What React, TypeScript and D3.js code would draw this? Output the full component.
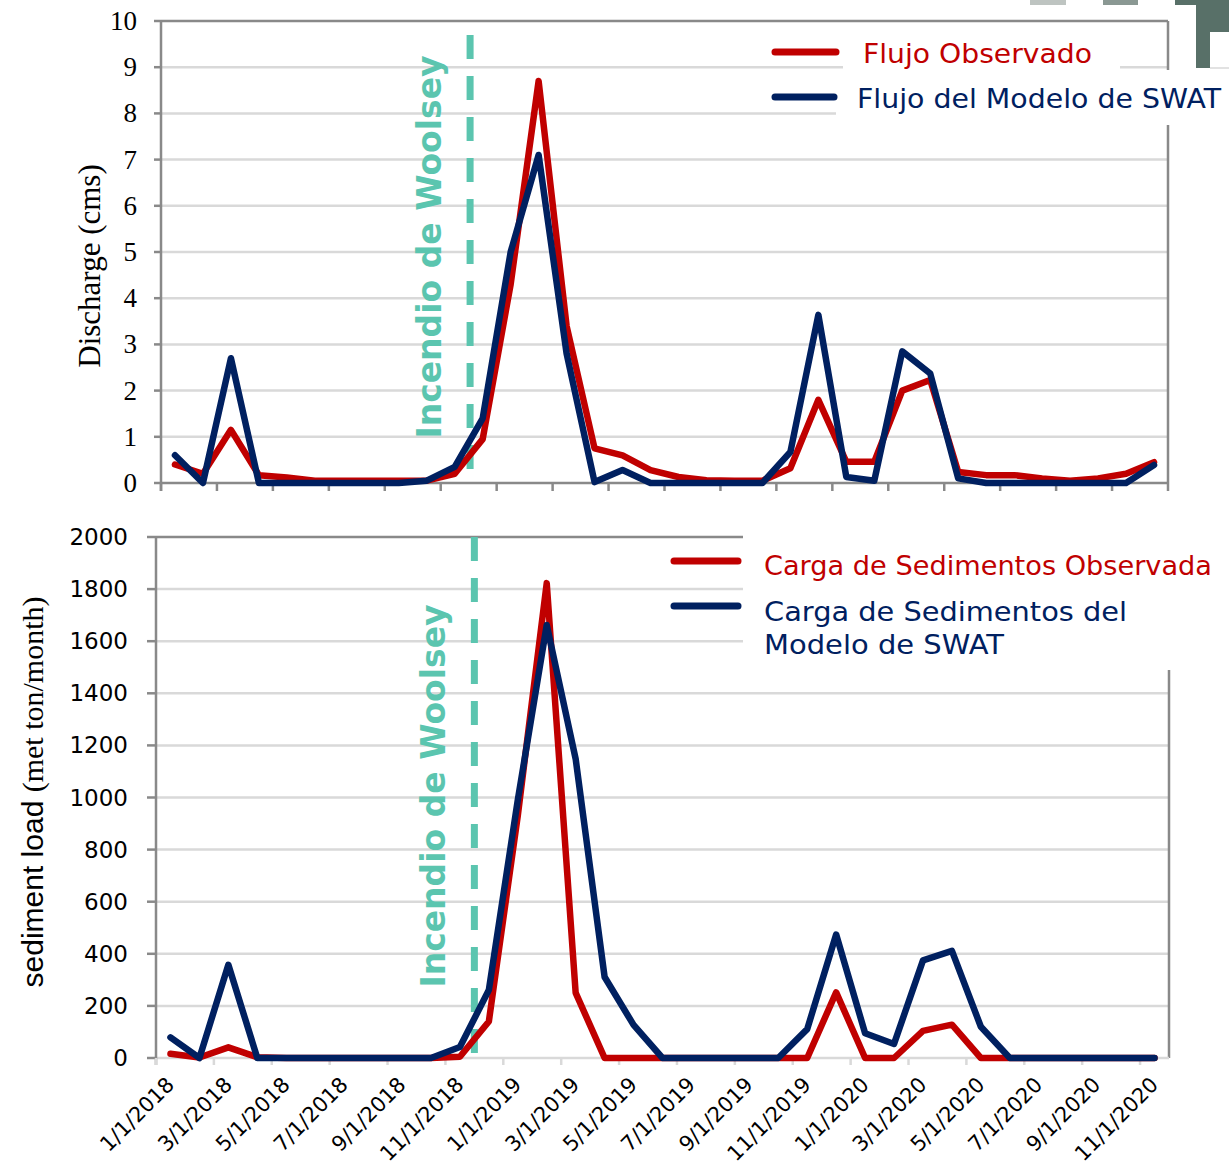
import React, { useEffect, useRef } from 'react';
import * as d3 from 'd3';

// monthly categories (first of month), Jan 2018 - Dec 2020
const months = [
  '1/1/2018', '2/1/2018', '3/1/2018', '4/1/2018', '5/1/2018', '6/1/2018',
  '7/1/2018', '8/1/2018', '9/1/2018', '10/1/2018', '11/1/2018', '12/1/2018',
  '1/1/2019', '2/1/2019', '3/1/2019', '4/1/2019', '5/1/2019', '6/1/2019',
  '7/1/2019', '8/1/2019', '9/1/2019', '10/1/2019', '11/1/2019', '12/1/2019',
  '1/1/2020', '2/1/2020', '3/1/2020', '4/1/2020', '5/1/2020', '6/1/2020',
  '7/1/2020', '8/1/2020', '9/1/2020', '10/1/2020', '11/1/2020', '12/1/2020',
];

// discharge (cms)
const flowObserved = [
  0.4, 0.2, 1.15, 0.17, 0.12, 0.05, 0.05, 0.05, 0.05, 0.05, 0.2, 0.95,
  4.3, 8.7, 3.4, 0.75, 0.6, 0.28, 0.13, 0.06, 0.05, 0.05, 0.32, 1.8,
  0.46, 0.46, 2.0, 2.23, 0.24, 0.17, 0.17, 0.1, 0.05, 0.1, 0.2, 0.45,
];
const flowModel = [
  0.6, 0, 2.7, 0, 0, 0, 0, 0, 0, 0.05, 0.35, 1.4,
  5.0, 7.1, 2.8, 0.02, 0.28, 0, 0, 0, 0, 0, 0.67, 3.64,
  0.13, 0.05, 2.85, 2.37, 0.1, 0, 0, 0, 0, 0, 0, 0.39,
];

// sediment load (met ton/month), Jan 2018 - Nov 2020
const sedMonths = months.slice(0, 35);
const sedObserved = [
  16, 2, 41, 3, 0, 0, 0, 0, 0, 0, 5, 140,
  930, 1823, 250, 0, 0, 0, 0, 0, 0, 0, 0, 252,
  0, 0, 104, 128, 0, 0, 0, 0, 0, 0, 0,
];
const sedModel = [
  79, 0, 358, 0, 0, 0, 0, 0, 0, 0, 42, 261,
  990, 1662, 1148, 311, 127, 0, 0, 0, 0, 0, 111, 474,
  95, 54, 375, 411, 120, 0, 0, 0, 0, 0, 0,
];

const flowTicks = [0, 1, 2, 3, 4, 5, 6, 7, 8, 9, 10];
const sedTicks = [0, 200, 400, 600, 800, 1000, 1200, 1400, 1600, 1800, 2000];
const fireMonth = '11/1/2018';

const RED = '#C00000';
const NAVY = '#002060';
const TEAL = '#5BC5AF';
const GRID = '#D9D9D9';
const AXIS = '#898989';
const SANS = 'DejaVu Sans, sans-serif';
const SERIF = 'Liberation Serif, Times New Roman, serif';

function App() {
  const svgRef = useRef<SVGSVGElement>(null);

  useEffect(() => {
    const svg = d3.select(svgRef.current);
    svg.selectAll('*').remove();

    const top = { left: 161, right: 1168, top: 21, bottom: 483 };
    const bot = { left: 156, right: 1169, top: 537, bottom: 1058 };

    const xTop = d3.scalePoint<string>().domain(months).range([top.left, top.right]).padding(0.5);
    const yTop = d3.scaleLinear().domain([0, 10]).range([top.bottom, top.top]);
    const xBot = d3.scalePoint<string>().domain(sedMonths).range([bot.left, bot.right]).padding(0.5);
    const yBot = d3.scaleLinear().domain([0, 2000]).range([bot.bottom, bot.top]);

    const hline = (x1: number, x2: number, y: number, c: string, w = 2) =>
      svg.append('line').attr('x1', x1).attr('x2', x2).attr('y1', y).attr('y2', y)
        .attr('stroke', c).attr('stroke-width', w);
    const vline = (x: number, y1: number, y2: number, c: string, w = 2) =>
      svg.append('line').attr('x1', x).attr('x2', x).attr('y1', y1).attr('y2', y2)
        .attr('stroke', c).attr('stroke-width', w);

    // ---------- top panel: grid + axes ----------
    flowTicks.filter(t => t > 0 && t < 10).forEach(t => hline(top.left, top.right, yTop(t), GRID, 2.5));
    hline(top.left, top.right, yTop(10), AXIS, 2.5);
    vline(top.right, top.top, top.bottom, AXIS, 2.5);
    vline(top.left, top.top, top.bottom + 8, AXIS, 2.5);
    hline(top.left, top.right, top.bottom, AXIS, 2.5);
    flowTicks.forEach(t => hline(top.left - 7, top.left, yTop(t), AXIS, 2.5));
    d3.range(0, months.length + 1, 2).forEach(i =>
      vline(top.left + i * xTop.step(), top.bottom, top.bottom + 8, AXIS, 2.5));

    svg.append('g').selectAll('text').data(flowTicks).join('text')
      .attr('x', 137).attr('y', d => yTop(d)).attr('text-anchor', 'end')
      .attr('dominant-baseline', 'central').attr('font-family', SERIF).attr('font-size', 27)
      .text(d => d);

    svg.append('text')
      .attr('transform', `translate(100,${(top.top + top.bottom) / 2 + 14}) rotate(-90)`)
      .attr('text-anchor', 'middle').attr('font-family', SERIF).attr('font-size', 31)
      .text('Discharge (cms)');

    // ---------- bottom panel: grid + axes ----------
    sedTicks.filter(t => t > 0 && t < 2000).forEach(t => hline(bot.left, bot.right, yBot(t), GRID, 2.5));
    hline(bot.left, 743, yBot(2000), AXIS, 2.5);
    vline(bot.right, 670, bot.bottom, AXIS, 2.5);
    hline(bot.left, bot.right, bot.bottom, GRID, 2.5);
    vline(bot.left, bot.top, bot.bottom + 7, AXIS, 2.5);
    sedTicks.forEach(t => hline(bot.left - 9, bot.left, yBot(t), AXIS, 2.5));
    d3.range(0, sedMonths.length, 2).forEach(i =>
      vline(bot.left + i * xBot.step(), bot.bottom, bot.bottom + 7, GRID, 2.5));

    svg.append('g').selectAll('text').data(sedTicks).join('text')
      .attr('x', 128).attr('y', d => yBot(d)).attr('text-anchor', 'end')
      .attr('dominant-baseline', 'central').attr('font-family', SANS).attr('font-size', 23)
      .text(d => d);

    const ytitle = svg.append('text')
      .attr('transform', `translate(43,792) rotate(-90)`)
      .attr('text-anchor', 'middle').attr('font-size', 30);
    ytitle.append('tspan').attr('font-family', 'Liberation Sans, Arial, sans-serif').text('sediment load ');
    ytitle.append('tspan').attr('font-family', SERIF).text('(met ton/month)');

    svg.append('g').selectAll('text').data(sedMonths.filter((_, i) => i % 2 === 0)).join('text')
      .attr('transform', d => `translate(${(xBot(d) as number) + 5},1086) rotate(-45)`)
      .attr('text-anchor', 'end').attr('font-family', SANS).attr('font-size', 21)
      .text(d => d);

    // ---------- legend backgrounds (hide grid behind legend text) ----------
    svg.append('rect').attr('x', 843).attr('y', 36).attr('width', 277).attr('height', 34).attr('fill', '#fff');
    svg.append('rect').attr('x', 836).attr('y', 70).attr('width', 393).attr('height', 55).attr('fill', '#fff');
    svg.append('rect').attr('x', 743).attr('y', 525).attr('width', 486).attr('height', 145).attr('fill', '#fff');

    // ---------- fire markers ----------
    const fireTop = (xTop(fireMonth) as number) + xTop.step() * 0.55;
    const fireBot = (xBot(fireMonth) as number) + xBot.step() * 0.5;
    vline(fireTop, 35, top.bottom, TEAL, 7).attr('stroke-dasharray', '24,17');
    vline(fireBot, bot.top, bot.bottom, TEAL, 7).attr('stroke-dasharray', '24,17');
    [[fireTop, 247], [fireBot, 796]].forEach(([fx, cy]) => {
      svg.append('text')
        .attr('transform', `translate(${fx - 29},${cy}) rotate(-90)`)
        .attr('text-anchor', 'middle').attr('font-family', SANS).attr('font-weight', 'bold')
        .attr('font-size', 33).attr('fill', TEAL)
        .text('Incendio de Woolsey');
    });

    // ---------- data lines ----------
    const drawSeries = (x: d3.ScalePoint<string>, y: d3.ScaleLinear<number, number>, cats: string[], vals: number[], color: string) => {
      const line = d3.line<number>()
        .x((_, i) => x(cats[i]) as number)
        .y(d => y(d));
      svg.append('path').datum(vals).attr('d', line)
        .attr('fill', 'none').attr('stroke', color).attr('stroke-width', 6.5)
        .attr('stroke-linejoin', 'round').attr('stroke-linecap', 'round');
    };
    drawSeries(xTop, yTop, months, flowObserved, RED);
    drawSeries(xTop, yTop, months, flowModel, NAVY);
    drawSeries(xBot, yBot, sedMonths, sedObserved, RED);
    drawSeries(xBot, yBot, sedMonths, sedModel, NAVY);

    // ---------- legends ----------
    const legendLine = (x1: number, x2: number, y: number, c: string) =>
      svg.append('line').attr('x1', x1).attr('x2', x2).attr('y1', y).attr('y2', y)
        .attr('stroke', c).attr('stroke-width', 7).attr('stroke-linecap', 'round');
    const legendText = (x: number, y: number, c: string, s: string, len: number) =>
      svg.append('text').attr('x', x).attr('y', y).attr('fill', c)
        .attr('font-family', SANS).attr('font-size', 27)
        .attr('textLength', len).attr('lengthAdjust', 'spacingAndGlyphs').text(s);

    legendLine(775, 836, 52, RED);
    legendLine(775, 834, 97, NAVY);
    legendText(863, 63, RED, 'Flujo Observado', 229);
    legendText(857, 108, NAVY, 'Flujo del Modelo de SWAT', 364);

    legendLine(674, 738, 561, RED);
    legendLine(674, 738, 606, NAVY);
    legendText(764, 575, RED, 'Carga de Sedimentos Observada', 448);
    legendText(764, 621, NAVY, 'Carga de Sedimentos del', 363);
    legendText(764, 654, NAVY, 'Modelo de SWAT', 240);

    // ---------- page decoration, top right ----------
    svg.append('rect').attr('x', 1030).attr('y', 0).attr('width', 36).attr('height', 5).attr('fill', '#BEC4C1');
    svg.append('rect').attr('x', 1103).attr('y', 0).attr('width', 35).attr('height', 5).attr('fill', '#8A9893');
    svg.append('rect').attr('x', 1175).attr('y', 0).attr('width', 54).attr('height', 5).attr('fill', '#587068');
    svg.append('rect').attr('x', 1196).attr('y', 0).attr('width', 14).attr('height', 68).attr('fill', '#587068');
    svg.append('rect').attr('x', 1210).attr('y', 0).attr('width', 19).attr('height', 32).attr('fill', '#587068');
    hline(1210, 1229, 68, GRID, 1.5);
  }, []);

  return (
    <svg
      ref={svgRef}
      width={1229}
      height={1172}
      style={{ position: 'absolute', left: 0, top: 0, background: '#fff' }}
    />
  );
}

export default App;
